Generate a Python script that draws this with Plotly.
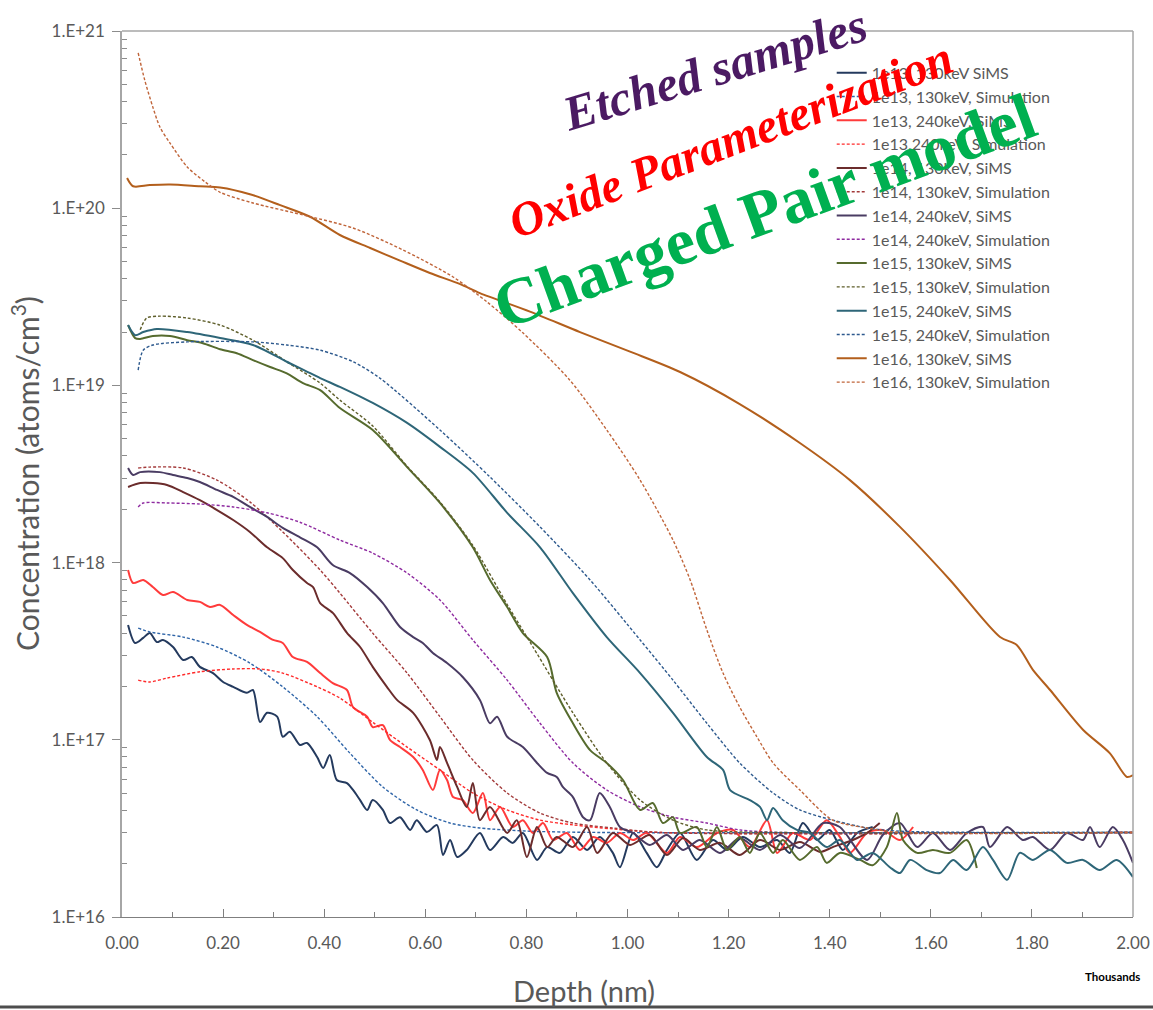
import plotly.graph_objects as go

# ---------------- data (depth in nm, concentration in atoms/cm3) ----------------
s13_130_sims = [(12,4.45e17),(26,3.52e17),(42,3.76e17),(55,4.01e17),(69,3.56e17),(81,3.66e17),(101,3.34e17),(121,2.82e17),(138,2.93e17),(154,2.58e17),(180,2.38e17),(200,2.12e17),(220,1.99e17),(247,1.84e17),(259,1.91e17),(273,1.26e17),(287,1.42e17),(307,1.35e17),(318,1.04e17),(332,1.11e17),(352,9.35e16),(366,9.6e16),(386,8.0e16),(398,6.93e16),(411,8.2e16),(425,5.93e16),(445,5.7e16),(457,5.21e16),(471,4.57e16),(485,4.02e16),(496,4.57e16),(516,4.02e16),(530,3.39e16),(550,3.66e16),(570,3.1e16),(583,3.52e16),(603,3.02e16),(623,3.3e16),(635,2.24e16),(649,2.72e16),(663,2.18e16),(682,2.39e16),(708,2.98e16),(728,2.39e16),(754,2.83e16),(773,2.62e16),(793,2.98e16),(821,2.1e16),(841,2.48e16),(866,2.3e16),(892,2.83e16),(920,2.39e16),(945,2.83e16),(971,2.3e16),(985,1.91e16),(1011,2.98e16),(1038,2.3e16),(1058,1.91e16),(1078,2.39e16),(1104,2.98e16),(1137,2.1e16),(1169,2.72e16),(1197,2.39e16),(1228,2.83e16),(1262,2.48e16),(1296,2.72e16),(1321,2.3e16),(1347,3.39e16),(1375,2.72e16),(1400,3.1e16),(1426,2.39e16),(1454,2.98e16),(1485,3.22e16)]

s13_130_sim = [(32,4.27e17),(55,4.06e17),(121,3.8e17),(188,3.34e17),(253,2.71e17),(318,1.99e17),(386,1.35e17),(451,8.4e16),(516,5.42e16),(583,4.02e16),(649,3.39e16),(708,3.18e16),(807,3.05e16),(945,3.0e16),(2000,3.0e16)]

s13_240_sims = [(12,9.08e17),(22,7.67e17),(42,7.98e17),(61,7.28e17),(81,6.56e17),(101,6.82e17),(129,6.15e17),(154,6.0e17),(174,5.61e17),(194,5.77e17),(220,5.06e17),(247,4.45e17),(273,4.06e17),(299,3.66e17),(318,3.52e17),(338,2.93e17),(366,2.75e17),(392,2.38e17),(417,2.09e17),(445,1.91e17),(457,1.53e17),(485,1.35e17),(496,1.18e17),(516,1.21e17),(530,1.0e17),(550,9.1e16),(576,8.0e16),(595,6.76e16),(615,5.21e16),(629,6.76e16),(643,5.93e16),(655,4.75e16),(674,4.57e16),(694,3.86e16),(714,5.01e16),(728,3.52e16),(748,4.18e16),(773,3.22e16),(793,3.52e16),(813,2.98e16),(833,3.39e16),(853,2.72e16),(880,2.98e16),(906,2.39e16),(932,2.83e16),(959,2.62e16),(985,2.98e16),(1011,2.72e16),(1038,2.98e16),(1078,2.3e16),(1104,2.83e16),(1137,2.48e16),(1177,2.98e16),(1209,3.1e16),(1242,2.48e16),(1276,3.52e16),(1296,2.3e16),(1327,2.98e16),(1361,2.72e16),(1394,3.52e16),(1420,2.83e16),(1440,2.3e16),(1474,2.98e16),(1505,3.1e16),(1539,2.72e16),(1565,3.22e16)]

s13_240_sim = [(32,2.17e17),(55,2.12e17),(89,2.23e17),(154,2.42e17),(220,2.51e17),(273,2.51e17),(318,2.38e17),(386,1.99e17),(431,1.72e17),(497,1.25e17),(564,9.1e16),(629,6.76e16),(694,5.01e16),(762,4.02e16),(827,3.52e16),(892,3.31e16),(971,3.14e16),(1064,3.0e16),(2000,3.0e16)]

s14_130_sims = [(12,2.67e18),(36,2.81e18),(61,2.81e18),(89,2.74e18),(121,2.5e18),(154,2.25e18),(188,1.98e18),(220,1.74e18),(253,1.49e18),(287,1.22e18),(318,1.06e18),(338,9.08e17),(366,7.67e17),(378,7.28e17),(392,5.91e17),(417,5.2e17),(445,4.01e17),(471,3.34e17),(496,2.58e17),(524,1.99e17),(544,1.68e17),(576,1.42e17),(609,9.97e16),(623,7.69e16),(629,9.1e16),(643,7.4e16),(663,5.42e16),(682,4.18e16),(694,5.7e16),(708,3.52e16),(728,4.18e16),(762,2.98e16),(781,3.52e16),(801,2.18e16),(821,3.22e16),(841,2.48e16),(860,2.83e16),(892,2.48e16),(920,3.22e16),(940,2.3e16),(971,2.98e16),(1005,2.55e16),(1044,2.9e16),(1078,2.24e16),(1110,2.79e16),(1143,2.39e16),(1183,2.62e16),(1222,2.24e16),(1262,2.72e16),(1302,2.39e16),(1341,2.65e16),(1381,2.33e16),(1406,2.48e16),(1446,2.72e16),(1474,2.98e16),(1499,3.39e16)]

s14_130_sim = [(32,3.42e18),(55,3.46e18),(121,3.42e18),(188,2.92e18),(253,2.2e18),(318,1.49e18),(392,9.08e17),(431,6.73e17),(496,4.0e17),(564,2.38e17),(629,1.35e17),(694,7.69e16),(762,5.01e16),(827,3.86e16),(892,3.39e16),(971,3.18e16),(1064,3.0e16),(2000,3.0e16)]

s14_240_sims = [(12,3.42e18),(22,3.12e18),(36,3.24e18),(75,3.24e18),(101,3.12e18),(129,3.0e18),(154,2.85e18),(188,2.57e18),(220,2.35e18),(253,2.06e18),(287,1.81e18),(318,1.57e18),(352,1.39e18),(386,1.22e18),(417,9.7e17),(451,8.73e17),(485,7.28e17),(516,5.91e17),(550,4.33e17),(576,3.8e17),(595,3.52e17),(615,3.09e17),(643,2.71e17),(674,2.26e17),(708,1.68e17),(728,1.24e17),(742,1.35e17),(762,1.04e17),(793,9.1e16),(821,7.4e16),(841,6.5e16),(860,6.17e16),(872,5.42e16),(892,4.75e16),(912,3.66e16),(926,3.52e16),(945,5.01e16),(965,4.18e16),(985,3.22e16),(1011,2.98e16),(1044,2.55e16),(1078,2.9e16),(1110,2.39e16),(1143,2.72e16),(1183,2.3e16),(1222,2.79e16),(1262,2.39e16),(1302,2.9e16),(1341,2.45e16),(1387,3.39e16),(1420,3.22e16),(1474,2.1e16),(1505,2.9e16),(1539,3.39e16),(1573,2.48e16),(1604,2.98e16),(1638,2.39e16),(1671,2.98e16),(1703,3.22e16),(1717,2.48e16),(1751,3.22e16),(1782,2.72e16),(1802,2.83e16),(1836,2.39e16),(1869,2.98e16),(1901,2.72e16),(1915,3.22e16),(1934,2.48e16),(1960,3.22e16),(1980,2.72e16),(2000,2.02e16)]

s14_240_sim = [(32,2.06e18),(42,2.17e18),(89,2.17e18),(154,2.14e18),(220,2.06e18),(287,1.91e18),(352,1.69e18),(431,1.34e18),(496,1.13e18),(564,8.73e17),(629,6.15e17),(694,3.66e17),(762,2.17e17),(827,1.24e17),(892,7.4e16),(959,5.21e16),(1025,4.18e16),(1090,3.66e16),(1157,3.39e16),(1222,3.1e16),(1302,3.0e16),(2000,3.0e16)]

s15_130_sims = [(12,2.19e19),(26,1.85e19),(36,1.83e19),(61,1.9e19),(95,1.9e19),(129,1.8e19),(160,1.73e19),(194,1.6e19),(227,1.52e19),(259,1.39e19),(293,1.27e19),(326,1.17e19),(358,1.03e19),(392,9.4e18),(431,7.45e18),(496,5.6e18),(564,3.46e18),(629,2.17e18),(694,1.22e18),(728,7.98e17),(762,5.61e17),(793,4.0e17),(841,2.93e17),(860,1.84e17),(892,1.24e17),(926,8.75e16),(959,7.4e16),(991,5.93e16),(1025,4.02e16),(1050,4.4e16),(1070,3.39e16),(1090,3.66e16),(1104,2.98e16),(1137,3.22e16),(1157,2.48e16),(1177,3.22e16),(1197,2.39e16),(1222,2.83e16),(1242,2.3e16),(1262,2.98e16),(1288,2.3e16),(1307,2.72e16),(1341,2.1e16),(1375,2.48e16),(1394,2.02e16),(1420,2.3e16),(1460,2.1e16),(1485,1.96e16),(1513,2.48e16),(1533,3.86e16),(1545,2.72e16),(1573,2.3e16),(1604,2.39e16),(1638,2.3e16),(1671,2.72e16),(1691,1.89e16)]

s15_130_sim = [(36,2.06e19),(49,2.4e19),(75,2.46e19),(129,2.4e19),(194,2.19e19),(259,1.8e19),(326,1.36e19),(392,1.03e19),(431,8.26e18),(496,5.9e18),(564,3.5e18),(629,2.2e18),(694,1.25e18),(762,5.8e17),(813,3.34e17),(892,1.42e17),(959,7.4e16),(1025,4.57e16),(1090,3.52e16),(1157,3.1e16),(1302,3.0e16),(2000,3.0e16)]

s15_240_sims = [(12,2.19e19),(26,1.92e19),(42,2.0e19),(69,2.08e19),(129,2.0e19),(194,1.85e19),(259,1.69e19),(326,1.36e19),(392,1.1e19),(431,9.8e18),(496,7.96e18),(564,6.14e18),(629,4.5e18),(694,3.21e18),(762,1.91e18),(827,1.22e18),(892,6.73e17),(959,3.8e17),(1025,2.38e17),(1090,1.42e17),(1157,8.0e16),(1189,6.76e16),(1203,5.2e16),(1242,4.57e16),(1262,4.18e16),(1276,3.52e16),(1288,4.12e16),(1307,3.52e16),(1335,3.1e16),(1361,2.98e16),(1394,2.48e16),(1420,2.72e16),(1454,2.1e16),(1485,2.3e16),(1519,1.91e16),(1539,1.77e16),(1559,2.1e16),(1592,1.84e16),(1618,1.77e16),(1644,2.1e16),(1671,1.84e16),(1703,2.48e16),(1723,2.1e16),(1751,1.62e16),(1776,2.3e16),(1802,2.1e16),(1836,2.39e16),(1869,2.02e16),(1901,2.1e16),(1934,1.84e16),(1968,2.1e16),(2000,1.68e16)]

s15_240_sim = [(32,1.22e19),(42,1.58e19),(61,1.69e19),(129,1.76e19),(259,1.76e19),(326,1.69e19),(392,1.58e19),(457,1.36e19),(510,1.1e19),(629,5.6e18),(728,3.04e18),(827,1.59e18),(926,7.98e17),(1025,3.66e17),(1090,2.17e17),(1157,1.24e17),(1222,7.4e16),(1288,5.01e16),(1341,4.02e16),(1406,3.52e16),(1474,3.18e16),(1539,3.05e16),(2000,3.0e16)]

s16_130_sims = [(10,1.48e20),(22,1.33e20),(55,1.35e20),(95,1.36e20),(154,1.33e20),(194,1.31e20),(253,1.2e20),(313,1.04e20),(372,8.95e19),(431,7.06e19),(491,5.96e19),(550,5.06e19),(609,4.31e19),(669,3.73e19),(708,3.32e19),(807,2.61e19),(906,2.0e19),(1005,1.55e19),(1104,1.19e19),(1222,7.85e18),(1341,4.73e18),(1440,2.92e18),(1539,1.59e18),(1638,7.98e17),(1737,3.8e17),(1770,3.43e17),(1802,2.48e17),(1836,1.91e17),(1901,1.14e17),(1954,8.41e16),(1988,6.17e16),(2000,6.32e16)]

s16_130_sim = [(32,7.52e20),(45,5.28e20),(61,3.72e20),(75,2.87e20),(95,2.33e20),(129,1.71e20),(164,1.41e20),(194,1.23e20),(259,1.07e20),(358,9.16e19),(457,7.73e19),(556,5.81e19),(655,4.09e19),(722,2.96e19),(793,1.98e19),(886,1.07e19),(959,5.6e18),(1025,2.92e18),(1090,1.34e18),(1124,7.98e17),(1157,4.17e17),(1189,2.38e17),(1222,1.53e17),(1256,1.04e17),(1288,7.4e16),(1341,5.21e16),(1406,3.52e16),(1474,3.18e16),(1539,3.0e16),(2000,3.0e16)]

series_names = ["1e13, 130keV SiMS", "1e13, 130keV, Simulation", "1e13, 240keV, SiMS", "1e13,240keV, Simulation",
                "1e14, 130keV, SiMS", "1e14, 130keV, Simulation", "1e14, 240keV, SiMS", "1e14, 240keV, Simulation",
                "1e15, 130keV, SiMS", "1e15, 130keV, Simulation", "1e15, 240keV, SiMS", "1e15, 240keV, Simulation",
                "1e16, 130keV, SiMS", "1e16, 130keV, Simulation"]

x_tick_vals = [0, 200, 400, 600, 800, 1000, 1200, 1400, 1600, 1800, 2000]
x_tick_text = ["0.00", "0.20", "0.40", "0.60", "0.80", "1.00", "1.20", "1.40", "1.60", "1.80", "2.00"]
x_minor_vals = [100, 300, 500, 700, 900, 1100, 1300, 1500, 1700, 1900]
y_tick_vals = [1e16, 1e17, 1e18, 1e19, 1e20, 1e21]
y_tick_text = ["1.E+16", "1.E+17", "1.E+18", "1.E+19", "1.E+20", "1.E+21"]
y_minor_vals = [2e16, 3e16, 4e16, 5e16, 6e16, 7e16, 8e16, 9e16,
                2e17, 3e17, 4e17, 5e17, 6e17, 7e17, 8e17, 9e17,
                2e18, 3e18, 4e18, 5e18, 6e18, 7e18, 8e18, 9e18,
                2e19, 3e19, 4e19, 5e19, 6e19, 7e19, 8e19, 9e19,
                2e20, 3e20, 4e20, 5e20, 6e20, 7e20, 8e20, 9e20]

# ---------------- styling ----------------
series_data = [s13_130_sims, s13_130_sim, s13_240_sims, s13_240_sim,
               s14_130_sims, s14_130_sim, s14_240_sims, s14_240_sim,
               s15_130_sims, s15_130_sim, s15_240_sims, s15_240_sim,
               s16_130_sims, s16_130_sim]
colors = ["#243a5e", "#2f65a8", "#ff3b3b", "#ff2a2a",
          "#6b2c2c", "#a33a3a", "#4a3c63", "#8e2aa0",
          "#566b2e", "#5e5e2a", "#2e6678", "#2e5a8e",
          "#b35f1c", "#c0653a"]

fig = go.Figure()
for i, (name, pts) in enumerate(zip(series_names, series_data)):
    is_sim = (i % 2 == 1)
    fig.add_trace(go.Scatter(
        x=[p[0] for p in pts], y=[p[1] for p in pts], name=name, mode="lines",
        line=dict(color=colors[i], width=1.4 if is_sim else 2.0,
                  dash="3px,2px" if is_sim else "solid", shape="spline", smoothing=0.8),
    ))

fig.update_layout(
    width=1153, height=1010,
    margin=dict(l=122, r=20, t=31, b=93, autoexpand=False),
    paper_bgcolor="white", plot_bgcolor="white",
    font=dict(family="Lato", color="#595959"),
    showlegend=True,
    legend=dict(x=0.702, y=0.972, xanchor="left", yanchor="top",
                bgcolor="rgba(0,0,0,0)", font=dict(size=16, color="#595959"),
                tracegroupgap=0, itemwidth=30),
    xaxis=dict(range=[0, 2000], tickvals=x_tick_vals, ticktext=x_tick_text, automargin=False,
               ticks="inside", ticklen=8, tickcolor="#7f7f7f", tickwidth=1,
               showline=True, linecolor="#7f7f7f", linewidth=1.2, showgrid=False, zeroline=False,
               tickfont=dict(size=17, color="#595959"), ticklabelstandoff=10,
               ticklabeloverflow="allow",
               minor=dict(tickvals=x_minor_vals, ticks="inside", ticklen=5,
                          tickcolor="#7f7f7f", showgrid=False)),
    yaxis=dict(type="log", range=[16, 21], tickvals=y_tick_vals, ticktext=y_tick_text, automargin=False,
               ticks="outside", ticklen=8, tickcolor="#8c8c8c", tickwidth=1,
               showline=True, linecolor="#a6a6a6", linewidth=1.5, showgrid=False, zeroline=False,
               tickfont=dict(size=17, color="#595959"), ticklabelstandoff=4,
               minor=dict(tickvals=y_minor_vals, ticks="inside", ticklen=5,
                          tickcolor="#8c8c8c", showgrid=False)),
)

# plot border (top / right)
fig.add_shape(type="line", xref="paper", yref="paper", x0=0, x1=1, y0=1, y1=1,
              line=dict(color="#a6a6a6", width=1.5))
fig.add_shape(type="line", xref="paper", yref="paper", x0=1, x1=1, y0=0, y1=1,
              line=dict(color="#a6a6a6", width=1.5))
# bottom edge strip
fig.add_shape(type="line", xref="paper", yref="paper", x0=-0.125, x1=1.025, y0=-0.1016, y1=-0.1016,
              line=dict(color="#4d4d4d", width=3))

# axis titles
fig.add_annotation(text="Concentration (atoms/cm<sup>3</sup>)", xref="paper", yref="paper",
                   x=-0.0959, y=0.5, xanchor="center", yanchor="middle", textangle=-90, showarrow=False,
                   font=dict(size=30, color="#595959", family="Lato"))
fig.add_annotation(text="Depth (nm)", xref="paper", yref="paper", x=0.457, y=-0.0835,
                   xanchor="center", yanchor="middle", showarrow=False,
                   font=dict(size=29, color="#595959", family="Lato"))
fig.add_annotation(text="<b>Thousands</b>", xref="paper", yref="paper", x=0.980, y=-0.0666,
                   xanchor="center", yanchor="middle", showarrow=False,
                   font=dict(size=11.5, color="#000000", family="Lato"))

# overlaid labels
fig.add_annotation(text="<b><i>Etched samples</i></b>", xref="paper", yref="paper",
                   x=0.5856, y=0.956, xanchor="center", yanchor="middle", showarrow=False, textangle=-17,
                   font=dict(family="Liberation Serif", size=49, color="#4b1a63"))
fig.add_annotation(text="<b><i>Oxide Parameterization</i></b>", xref="paper", yref="paper",
                   x=0.6014, y=0.878, xanchor="center", yanchor="middle", showarrow=False, textangle=-21,
                   font=dict(family="Liberation Serif", size=48, color="#ff0000"))
fig.add_annotation(text="<b>Charged Pair model</b>", xref="paper", yref="paper",
                   x=0.636, y=0.797, xanchor="center", yanchor="middle", showarrow=False, textangle=-20,
                   font=dict(family="Liberation Serif", size=66, color="#00b050"))

fig.write_html("out.html")
